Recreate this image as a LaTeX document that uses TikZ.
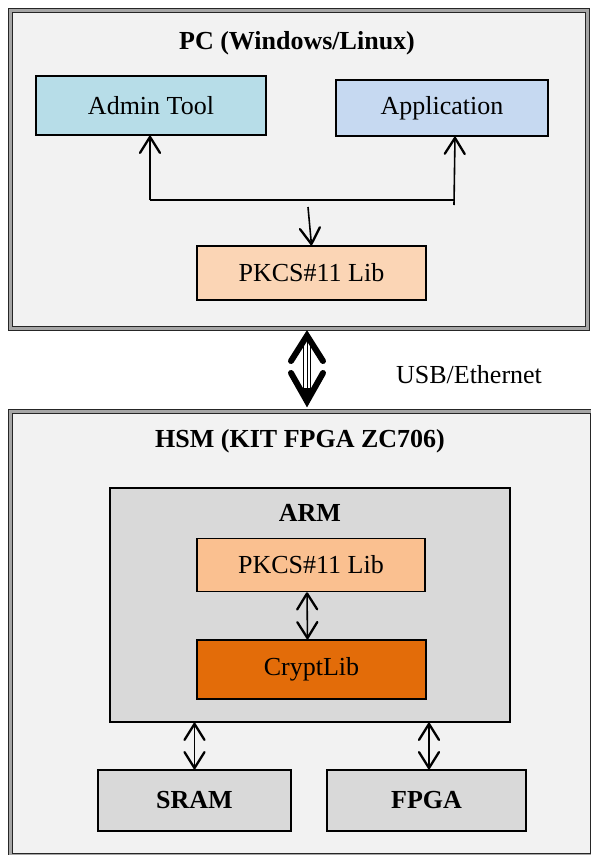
\documentclass[tikz,border=0pt]{standalone}
\usepackage{fontspec}
\setmainfont{Liberation Serif}
\usetikzlibrary{arrows.meta}
\definecolor{bg}{HTML}{F2F2F2}
\definecolor{admincol}{HTML}{B7DDE8}
\definecolor{appcol}{HTML}{C6D9F1}
\definecolor{pkcsA}{HTML}{FBD5B5}
\definecolor{pkcsB}{HTML}{FAC090}
\definecolor{cryptcol}{HTML}{E36C09}
\definecolor{graybox}{HTML}{D9D9D9}
\begin{document}
\begin{tikzpicture}[x=1pt,y=-1pt,
  every node/.style={font=\fontsize{26}{30}\selectfont},
  blk/.style={draw=black, line width=1.5pt, inner sep=0pt},
  outerbox/.style={draw=black!85, line width=1.2pt, double=gray!70, double distance=2.5pt, fill=bg, inner sep=0pt},
  titletext/.style={font=\fontsize{26}{30}\selectfont\bfseries},
  tipA/.tip={Straight Barb[length=16pt,width=20pt,line width=2.3pt,round]},
  arr/.style={line width=1.6pt, -tipA},
  darr/.style={line width=1.6pt, tipA-tipA},
]
\useasboundingbox (0,0) rectangle (591,855);
\fill[white] (0,0) rectangle (591,855);

% outer boxes
\node[outerbox, minimum width=577.2pt, minimum height=318.2pt] (pc) at (299,169.5) {};
\node[outerbox, minimum width=582.2pt, minimum height=444.2pt] (hsm) at (301.5,633.5) {};

\node[titletext] (pctitle) at (297,43) {PC (Windows/Linux)};
\node[titletext] (hsmtitle) at (300,441) {HSM (KIT FPGA ZC706)};

% PC contents
\node[blk, fill=admincol, minimum width=230pt, minimum height=59pt] (admin) at (151,105.5) {Admin Tool};
\node[blk, fill=appcol, minimum width=212pt, minimum height=56pt] (app) at (442,108) {Application};
\node[blk, fill=pkcsA, minimum width=229pt, minimum height=54pt] (pkcs1) at (311.5,273) {PKCS\#11 Lib};

\coordinate (jl) at (150,200);
\coordinate (jr) at (455,200);
\coordinate (jre) at (454,205);
\coordinate (jd) at (308,207);
\draw[line width=1.6pt] (jl) -- (jr);
\draw[arr] (jl) -- (admin.south -| jl);
\draw[arr] (jre) -- (app.south -| jr);
\draw[arr] (jd) -- (pkcs1.north);

% link
\draw[line width=0.9pt] (303.7,340) -- (303.7,396);
\draw[line width=0.9pt] (307.2,340) -- (307.2,396);
\draw[line width=0.9pt] (310.7,340) -- (310.7,396);
\draw[line width=6pt, line cap=round, line join=miter] (291,361) -- (307,335.7) -- (323,361);
\draw[line width=6pt, line cap=round, line join=miter] (291,373) -- (307,401.3) -- (323,373);
\fill (298,388) -- (316,388) -- (307,402) -- cycle;
\node (usb) at (469,375) {USB/Ethernet};

% HSM contents
\node[blk, fill=graybox, minimum width=400pt, minimum height=234pt] (arm) at (310,605) {};
\node[titletext] (armtitle) at (310,513) {ARM};
\node[blk, fill=pkcsB, minimum width=228pt, minimum height=53pt] (pkcs2) at (311,565) {PKCS\#11 Lib};
\node[blk, fill=cryptcol, minimum width=229pt, minimum height=59pt] (crypt) at (311.5,669.5) {CryptLib};
\node[blk, fill=graybox, minimum width=193pt, minimum height=61pt, font=\fontsize{26}{30}\selectfont\bfseries] (sram) at (194.5,800.5) {SRAM};
\node[blk, fill=graybox, minimum width=199pt, minimum height=61pt, font=\fontsize{26}{30}\selectfont\bfseries] (fpga) at (426.5,800.5) {FPGA};

\draw[darr] ([xshift=-4pt]pkcs2.south) -- ([xshift=-4pt]crypt.north);
\draw[darr] (sram.north |- arm.south) -- (sram.north);
\draw[darr] ([xshift=2.5pt]fpga.north |- arm.south) -- ([xshift=2.5pt]fpga.north);
\end{tikzpicture}
\end{document}
